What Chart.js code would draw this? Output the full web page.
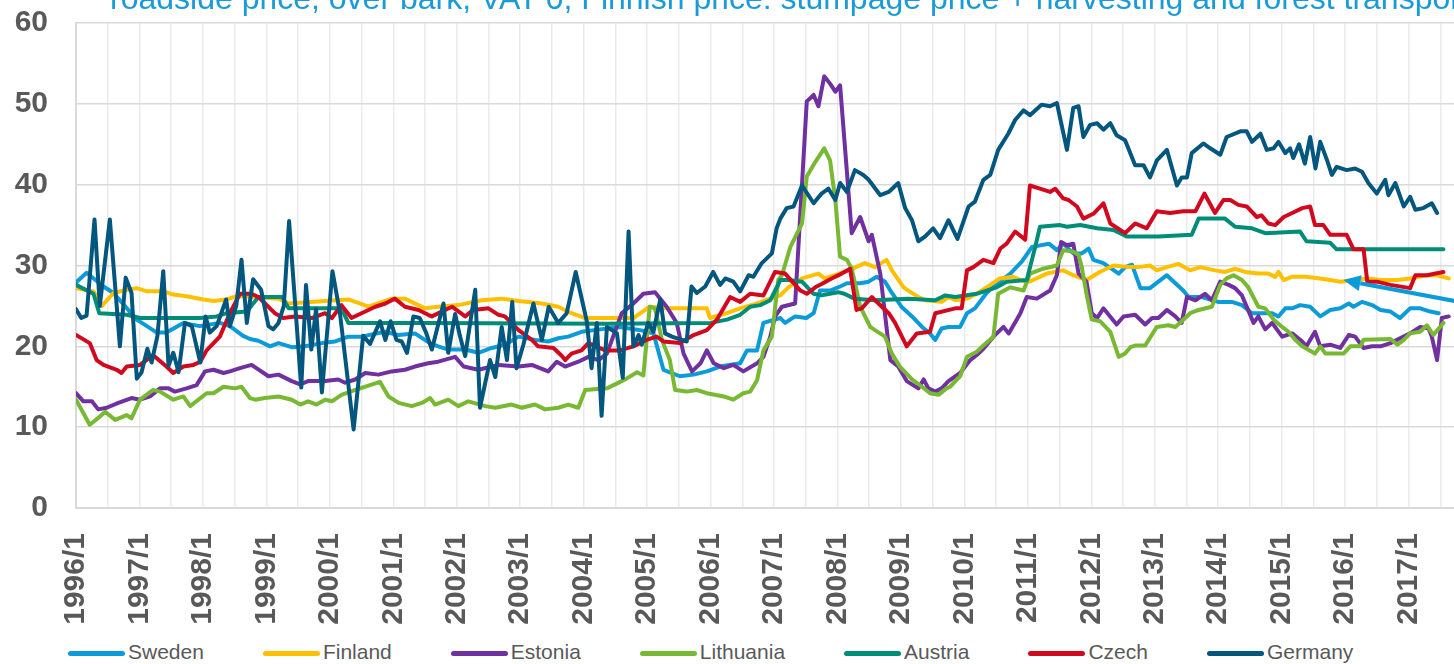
<!DOCTYPE html>
<html>
<head>
<meta charset="utf-8">
<script src="https://cdn.jsdelivr.net/npm/chart.js@4"></script>
<style>
  html, body { margin: 0; padding: 0; background: #fff; overflow: hidden; }
  #wrap { position: relative; width: 1454px; height: 664px; overflow: hidden; }
  #chartPrices { position: absolute; left: 0; top: 0; }
  #note { position: absolute; left: 110px; top: -18px; font: 32px/32px "Liberation Sans", Arial, sans-serif; color: #1a9ad6; white-space: nowrap; }
  #legend { position: absolute; left: 68px; top: 640px; display: flex; gap: 59px; font: 21px/24px "Liberation Sans", Arial, sans-serif; color: #595959; white-space: nowrap; }
  #legend .item { display: flex; align-items: center; }
  #legend .swatch { width: 57px; height: 5px; border-radius: 3px; margin: 2px 3px 0 0; }
</style>
</head>
<body>
<div id="wrap">
  <canvas id="chartPrices" width="1454" height="636"></canvas>
  <div id="note">roadside price, over bark, VAT 0, Finnish price: stumpage price + harvesting and forest transport</div>
  <div id="legend"></div>
</div>
<script>
// months counted from 1996/1 (0 = 1996/1), value in EUR/m3
const yearLabels = ['1996/1', '1997/1', '1998/1', '1999/1', '2000/1', '2001/1', '2002/1', '2003/1', '2004/1', '2005/1', '2006/1',
    '2007/1', '2008/1', '2009/1', '2010/1', '2011/1', '2012/1', '2013/1', '2014/1', '2015/1', '2016/1', '2017/1'];
const names = ['Sweden', 'Finland', 'Estonia', 'Lithuania', 'Austria', 'Czech', 'Germany'];
const colors = ['#0b9bd8', '#ffc000', '#7030a0', '#78b833', '#008d78', '#d2091e', '#03577f'];

const sweden = [[0,27.9],[2,29.1],[5.2,27.4],[7.1,26.6],[11.5,23.3],[15.3,21.7],[17.1,21.7],[20.3,22.9],[23.4,22.5],[27.2,22.9],[29.1,22.5],[31.6,21.3],[32.9,20.9],
    [34.5,20.7],[36.7,20.0],[38.3,20.4],[40.8,19.9],[43.3,20.0],[46.5,20.4],[49,20.6],[51.5,21.2],[54,21.2],[58.4,21.8],[60.9,21.4],[64.1,21.6],[66.9,20.4],
    [68.5,20.0],[70.4,19.6],[73.6,19.6],[76.1,19.2],[78.6,19.8],[81.1,20.2],[83.7,21.2],[86.8,20.8],[89.3,20.6],[91.2,21.0],[93.1,21.2],[95.6,21.8],[99.1,22.1],
    [102.9,22.4],[106.7,22.0],[109.2,21.6],[111.1,17.1],[114.2,16.3],[116.8,16.5],[119.3,16.9],[121.8,17.5],[125.6,17.9],[126.9,19.5],[128.8,19.5],[130,22.9],[133.2,23.5],
    [134.1,22.9],[136,23.7],[138.1,23.5],[139.5,24.1],[140.7,26.9],[142.6,26.9],[144.5,27.4],[145.8,27.8],[148.3,27.8],[149.9,28.0],[151.4,28.6],[153,28.0],[154.3,26.6],
    [156.1,24.9],[158.1,23.7],[160,22.4],[161.5,21.6],[162.5,20.8],[163.7,22.2],[165,22.4],[167.2,22.4],
    [168.5,24.1],[170,24.7],[172.2,26.6],[173.5,27.4],[176.7,29.0],[178.9,30.5],[180.8,32.3],[184,32.7],[185.5,31.9],[186.7,32.7],[188.6,31.5],[190.2,31.5],[191.5,32.1],
    [192.4,30.7],[194.3,30.3],[197.2,29.0],[198.4,29.8],
    [199.7,30.1],[201.3,27.2],[203.1,27.2],[204.7,28.0],[206.3,28.8],[207.9,27.8],[209.4,26.9],[210.4,26.1],[212.9,26.1],[216,25.5],[218.6,25.5],[220.5,25.1],[222.4,24.1],
    [226.2,24.1],[227.4,23.7],[228.7,24.7],[230,24.7],[231.5,25.1],
    [233.4,24.9],[235.3,23.7],[237.2,24.5],[239.1,24.7],[240.7,25.3],[241.6,24.9],[243.2,25.5],[245.1,25.1],[246.7,24.5],[248.6,24.3],[250.4,23.5],[252.3,24.7],[254.2,24.7],
    [256.1,24.3],[257.7,24.1]];

const finland = [[0,27.2],[3.3,26.8],[4.9,25.0],[7.1,26.6],[9.6,27.0],[11.5,27.2],[13.4,26.8],[16.5,26.8],[18.4,26.4],[20.9,26.2],[24.1,25.8],[26,25.6],[28.5,25.8],[30.4,26.2],
    [32,26.2],[38.3,25.9],[40.2,25.3],[47.1,25.6],[51.5,25.8],[55.3,24.9],[59.7,25.9],[62.2,25.9],[66,24.7],
    [68.5,24.9],[72.3,25.1],[76.7,25.7],[80.5,25.9],[83.7,25.6],[88.1,25.3],[91.2,24.9],[93.7,24.1],[96.3,23.5],[100.1,23.5],
    [105.4,23.5],[108.5,24.9],[111.7,24.7],[119.3,24.7],[119.9,23.5],[123.1,24.1],[125.6,24.7],[128.8,25.3],[131.3,25.9],[133.2,26.3],
    [134.7,27.3],[137.3,28.4],[140.4,29.0],[141.6,28.4],[143.5,28.8],[146.1,29.4],[149.2,30.3],[151.1,29.8],[153.3,30.7],[154.3,29.4],[156.5,27.3],[157.4,26.9],
    [159.3,26.1],[160.6,25.7],[163.7,25.5],[165,26.1],[166.3,25.7],
    [168.5,25.9],[170.3,26.5],[172.2,27.3],[174.7,28.4],[177.2,28.6],[179.8,27.9],[181,28.2],[183.6,29.0],[186.7,29.4],[188.6,28.8],[191.1,28.2],[193.6,29.2],[196.2,30.0],[199.4,29.8],
    [200.9,29.8],[203.1,30.0],[204.4,29.4],[206.3,29.8],[208.5,30.2],[210.7,29.4],[212.6,29.8],[215.4,29.4],[217.3,29.2],[219.2,29.6],[221.1,29.2],[223.6,29.0],[225.5,29.0],
    [226.8,28.6],[227.4,29.2],[228.4,28.2],[229.9,28.6],[232.5,28.6],
    [235.3,28.4],[237.2,28.2],[239.1,28.0],[241.6,28.2],[244.2,28.4],[246.7,28.2],[249.9,28.2],[252.3,28.4],[255.5,28.8],[257.4,28.8],[259.6,28.4]];

const estonia = [[0,14.2],[1.4,13.2],[3,13.2],[4.2,12.2],[5.8,12.4],[8,13.0],[10.5,13.6],[12.1,13.4],[14,13.8],[15.9,14.8],[17.5,14.8],[18.7,14.4],[20.9,14.8],[22.8,15.2],
    [24.4,16.9],[26,17.1],[27.9,16.7],[29.1,16.9],[31,17.3],[33.2,17.7],
    [36.4,16.3],[38.3,16.5],[40.8,15.7],[42.4,15.3],[43.9,15.7],[47.1,15.7],[49.6,15.9],[50.9,15.5],[52.8,15.9],[54.7,16.7],[57.2,16.5],[59.7,16.9],[62.2,17.1],[64.1,17.5],[66.6,17.9],
    [68.5,18.1],[71.7,18.7],[73.3,17.5],[76.1,17.1],[79.9,17.7],[83.7,17.5],[86.2,17.7],[89.3,16.9],[90.9,18.1],[92.5,17.5],[95,18.1],[96.9,18.7],[98.8,18.3],
    [100.4,19.1],[103.2,24.1],[105.4,25.3],[107.3,26.5],[109.5,26.7],[111.7,24.9],[113.6,22.9],[114.9,19.1],[116.5,16.9],[118.1,17.9],[119.3,19.5],[120.6,17.9],[122.5,17.3],
    [124.3,17.7],[126.2,16.9],[128.8,17.9],[130,18.7],[131.3,21.2],[132.2,23.7],
    [133.5,24.9],[136,25.3],[138.2,50.3],[139.5,51.1],[140.4,49.7],[141.5,53.4],[142.6,52.5],[143.6,51.5],[144.5,52.3],[146.7,34.0],[148.3,36.0],[149.9,33.0],[150.5,33.8],
    [152.1,29.0],[154,18.3],[155.5,17.5],[157.1,15.7],[159.3,14.8],[160.3,15.9],[161.2,14.8],[162.5,14.4],[163.7,14.8],[165,15.7],
    [167.2,16.7],[169.1,18.3],[170.3,18.9],[171.6,19.7],[173.5,21.2],[175.4,22.4],[176.4,21.6],[178.6,24.1],[179.8,26.1],[181.7,25.9],[184.2,26.9],[185.5,28.8],[186.3,32.9],
    [187.4,32.5],[188.6,32.7],[189.6,29.0],[191.1,28.0],[192.1,24.1],[193.1,23.5],[194.3,24.7],[196.8,22.7],[198.1,23.7],
    [200.3,23.9],[202.2,22.7],[203.5,23.5],[204.7,23.5],[206.3,24.5],[207.9,23.7],[209.1,22.9],[210.1,26.1],[211.7,25.7],[213.5,26.5],[214.8,25.7],[216.4,28.0],[218,27.6],
    [219.2,27.2],[220.5,26.3],[222.7,22.9],[223.6,23.7],[224.9,22.1],[226.2,22.9],[228.1,21.2],[230,21.6],[231.9,20.6],
    [232.7,20.0],[234.3,21.8],[235.3,20.0],[237.2,20.2],[239.1,19.8],[240.7,21.4],[241.9,21.2],[243.5,19.8],[245.1,20.0],[246.7,20.0],[248.6,20.4],[250.4,21.0],[252.3,21.6],
    [254.2,22.4],[255.8,22.2],[256.4,21.2],[257.4,18.3],[258.3,23.5],[259.6,23.7]];

const lithuania = [[0,13.4],[2.6,10.3],[4.5,11.3],[5.5,11.9],[7.4,10.9],[9.6,11.5],[10.5,11.1],[12.1,13.4],[14.6,14.6],[15.9,14.4],[18.4,13.4],[20.3,13.8],[21.6,12.6],
    [24.7,14.2],[26,14.2],[27.9,15.0],[30.1,14.8],[31.3,15.0],[32.9,13.6],
    [33.9,13.4],[35.7,13.6],[38.3,13.8],[40.8,13.4],[42.4,12.8],[43.9,13.2],[45.5,12.8],[47.1,13.4],[48.4,13.2],[50.2,14.0],[52.8,14.6],[55.6,15.2],[57.5,15.6],[59.1,13.8],
    [61,13.0],[63.5,12.6],[65.4,13.0],[67,13.6],
    [67.9,12.8],[70.4,13.4],[72.3,12.6],[74.2,13.2],[77.4,12.6],[79.3,12.4],[82.4,12.8],[84.3,12.4],[86.8,12.8],[88.7,12.2],[91.2,12.4],[93.1,12.8],[95,12.4],[96.3,14.6],[100.4,14.8],
    [102.9,15.6],[104.1,16.0],[106.1,16.8],[107.3,16.4],[108.5,24.9],[109.5,24.7],[110.8,20.8],[112.3,18.3],[113.3,14.6],[115.5,14.4],[117.4,14.6],[119.3,14.2],[122.5,13.8],
    [124.3,13.4],[126.2,14.2],[127.5,14.4],[128.8,15.8],[130,19.5],[131.6,21.2],[132.8,28.2],
    [133.5,28.8],[135.1,32.3],[137.3,35.2],[138.2,41.0],[139.8,42.8],[141.5,44.5],[142.6,43.0],[143.6,38.1],[144.5,31.1],[145.8,30.7],[146.7,29.6],[148.3,24.9],[150.2,22.4],
    [151.1,22.0],[153,21.2],[154.3,19.1],[155.8,17.5],[158.1,15.9],[160,15.0],[161.5,14.2],[163.1,14.0],[164.6,14.8],[165.3,15.0],
    [167.2,16.3],[168.5,18.7],[170.3,19.3],[171.6,20.1],[173.5,21.2],[174.4,26.5],[176.7,27.3],[179.2,26.9],[180.4,29.0],[182.9,29.6],[185.5,30.0],[186.7,31.9],[188.6,31.7],
    [189.6,31.3],[190.2,29.8],[191.1,26.5],[192.1,23.3],[193.7,23.1],[195.6,21.8],[197.2,18.7],[198.4,19.1],[199.4,19.9],
    [200.3,20.1],[202.2,20.1],[204.4,22.4],[206.6,22.6],[207.9,22.4],[209.1,23.1],[210.7,24.1],[212.3,24.5],[214.8,24.9],[216.4,27.6],[217.6,28.4],[218.9,28.8],[220.5,28.2],
    [221.7,27.3],[223.6,24.9],[224.9,24.7],[226.5,23.3],[228.1,22.4],[229.3,21.8],[230.6,20.8],[231.9,20.0],
    [234.3,19.1],[235.3,20.0],[236.3,19.1],[239.7,19.1],[241,20.0],[242.9,20.0],[243.5,20.8],[248.6,20.9],[249.9,20.2],[251.1,20.8],[252.3,21.6],[254.2,21.8],[255.5,22.6],
    [256.7,21.4],[258.6,22.9]];

const austria = [[0,27.6],[3.3,26.5],[4.4,24.1],[9.6,23.9],[12.1,23.5],[23.4,23.5],[26.6,23.7],[28.5,24.1],[32.3,24.3],[34.5,26.1],[39,26.1],[40.2,24.7],[50.2,24.7],[51.5,22.9],
    [66.6,22.9],[100,22.8],[120,22.9],[123.1,23.3],[125.6,23.9],[127.5,24.9],[129.4,25.1],[131.3,25.7],[133.2,28.2],
    [134.7,28.2],[137.3,28.0],[139.5,26.5],[141,26.3],[144.1,26.7],[145.3,26.5],[147.2,25.9],[151.1,25.7],[157.4,25.9],[162.5,25.7],[164.4,26.3],[166.3,26.1],
    [170.3,26.5],[174.1,27.3],[176,28.0],[179.8,28.2],[181.4,32.3],[182.3,34.8],[186.1,35.0],[187.4,34.8],[189.9,35.0],[193.1,34.6],[196.2,34.4],[198.7,33.6],
    [204.7,33.6],[211,33.8],[212.3,35.8],[217.3,35.8],[219.2,34.8],[222.4,34.6],[224.9,34.0],[231.5,34.2],[232.7,33.0],[237.2,32.8],[238.4,32.0],[258.6,32.0]];

const czech = [[0,21.4],[2.6,20.4],[3.9,18.3],[5.2,17.7],[7.7,17.1],[8.6,16.7],[9.6,17.5],[12.1,17.7],[14.6,18.9],[17.1,17.5],[18.4,16.7],[20.3,17.5],[22.2,17.7],[23.5,18.1],
    [24.7,19.5],[27.2,21.2],[29.1,24.1],[31,26.5],
    [33.2,26.5],[34.5,26.1],[37.6,24.1],[39.2,23.5],[41.4,23.7],[44.6,23.5],[47.1,24.1],[48.4,23.5],[50.2,25.1],[52.1,23.5],[54,24.1],[56.6,24.9],[58.5,25.3],[60.3,25.9],
    [62.2,24.9],[64.8,24.5],[66.6,23.9],
    [67.3,23.7],[71.1,24.9],[73.6,23.7],[75.1,24.5],[78,24.7],[79.9,23.9],[81.1,23.7],[83.7,22.0],[86.2,20.8],[87.4,20.0],[90.3,19.8],[91.9,18.8],[92.5,18.3],[93.7,19.1],
    [95.6,19.5],[96.9,20.4],[100.1,19.5],
    [102.9,19.5],[105.4,20.0],[107.9,20.8],[109.8,21.2],[111.1,20.6],[114.2,20.4],[116.8,21.4],[119.3,22.0],[121.2,23.3],[123.7,26.1],[125.6,25.5],[127.5,26.5],[130,26.3],[132.2,29.2],
    [134.1,29.0],[137,26.9],[138.2,26.5],[139.8,27.3],[141,27.7],[142.9,28.4],[144.8,29.0],[146.4,29.6],[147.6,24.5],[148.6,24.7],[150.5,26.1],[152.4,24.9],[153.7,24.1],
    [154.9,22.9],[157.1,20.0],[159,21.6],[161.5,21.8],[162.5,24.1],[166.3,24.7],
    [167.5,24.7],[168.5,29.4],[169.7,29.8],[171.6,30.7],[173.5,30.3],[174.8,32.1],[176,32.7],[177.6,34.2],[179.5,33.2],[180.4,39.9],[182.3,39.5],[184.2,39.1],[185.2,39.5],
    [186.7,38.3],[187.7,38.1],[189.3,37.3],[190.5,35.8],[192.4,36.4],[194.3,37.7],[195.6,35.2],[198.4,34.0],
    [200.3,35.2],[202.5,34.6],[204.4,36.7],[206.9,36.5],[209.4,36.7],[211.7,36.7],[213.4,38.9],[215.4,36.5],[217,38.1],[218.3,38.1],[219.8,37.5],[221.4,37.3],[223.3,36.0],
    [224.2,36.2],[225.5,35.2],[226.8,35.0],[228.4,36.0],[230,36.5],[231.9,37.1],
    [233.4,37.3],[234.3,35.0],[235.9,35.0],[237.2,33.8],[240.3,33.8],[241.6,32.0],[243.5,32.0],[244.2,28.0],[246,28.0],[248.6,27.6],[252.3,27.2],[253.3,28.8],[255.5,28.8],
    [257.1,29.0],[258.6,29.2]];

const germany = [[0,24.6],[1,23.5],[2,23.8],[3.5,35.7],[4.5,25.0],[6.4,35.7],[8.3,20.0],[9.4,28.5],[10.5,26.6],[11.5,16.0],[12.4,16.8],[13.5,19.7],[14.3,18.0],[15.4,21.3],
    [16.5,29.3],[17.5,17.6],[18.4,19.2],[19.4,16.8],[20.6,22.9],[21.9,22.5],[23.5,18.0],[24.5,23.7],[25.3,21.7],[26.6,22.5],[28.4,25.8],[29.1,22.5],[30.3,25.0],[31.3,30.7],[32.3,22.9],
    [33.5,28.3],[35,27.0],[36.4,22.5],[37.3,22.1],[38.3,22.9],[39.3,25.0],[40.3,35.5],[42.6,14.9],[43.5,27.6],[44.5,19.6],[45.4,24.6],[46.5,14.3],[48.5,29.3],[49.9,24.2],
    [52.5,9.7],[54.3,21.3],[55.6,20.3],[57.5,23.1],[58.5,20.8],[59.5,23.1],[60.6,20.8],[61.6,20.6],[62.6,19.2],[63.8,23.7],[65,23.5],[66.2,21.7],
    [67.3,19.6],[69.5,25.3],[70.4,19.2],[71.7,24.0],[72.6,21.3],[73.6,18.8],[75.5,27.0],[76.4,12.4],[78.3,18.3],[79.3,16.2],[80.5,22.4],[81.5,18.3],[82.5,25.5],[83.3,17.3],
    [84.6,20.2],[86.5,25.3],[88.1,20.8],[89.4,24.9],[91.2,22.9],[92.8,24.1],[94.5,29.2],[96.6,23.1],[97.5,17.3],[98.5,22.9],[99.4,11.4],
    [100.4,22.4],[102.3,21.6],[103.4,16.1],[104.5,34.2],[105.4,20.0],[106.4,21.4],[107,20.2],[108.2,22.9],[109.2,21.8],[110.5,25.8],[111.4,21.6],[112.7,21.2],[115.5,20.6],
    [116.4,27.4],[117.4,26.6],[119,27.4],[120.5,29.2],[121.8,27.6],[122.8,28.4],[124.3,28.0],[125.6,26.8],[127.2,28.8],[128.1,28.6],[129.7,30.3],[131.6,31.5],[132.5,34.6],[133.2,35.8],
    [134.4,37.1],[135.7,37.3],[137.3,39.9],[139.5,37.7],[141,38.9],[142.3,39.5],[143.6,38.1],[144.5,40.2],[145.8,39.1],[147.3,41.8],[148.9,41.2],[149.9,40.6],[152.1,38.7],
    [153.7,39.1],[155.5,40.2],[156.8,37.1],[158.1,35.6],[159.3,33.0],[160.6,33.6],[162.1,34.6],[163.4,33.4],[165,35.6],[166.7,33.3],
    [168.8,37.3],[170,37.9],[171.6,40.6],[172.9,41.2],[174.4,44.3],[176.3,46.3],[177.6,48.0],[179.2,49.2],[180.4,48.6],[182.6,49.9],[184.2,49.7],[185.5,50.1],[187.4,44.3],
    [188.6,49.5],[189.6,49.7],[190.5,45.9],[191.8,47.4],[193.1,47.6],[194.3,46.8],[195.6,47.6],[196.8,46.1],[198.4,45.5],
    [200.3,42.4],[201.9,42.4],[203.1,40.9],[204.4,43.0],[206.3,44.3],[208.2,39.9],[209.1,40.9],[210.1,40.9],[211,43.9],[213.2,45.1],[214.5,44.5],[216.4,43.7],[217.6,45.9],
    [220.2,46.6],[221.4,46.6],[222.4,45.3],[224,46.3],[225.2,44.3],[226.5,44.5],[227.4,45.3],[228.7,43.9],[229.6,44.5],[230.2,43.3],[231.3,45.0],[232.4,42.6],[233.4,45.9],
    [234.4,42.0],[235.3,45.3],[236.6,43.0],[237.5,41.2],[238.4,42.2],[240.3,41.8],[241.9,42.0],[243.2,41.6],[244.4,40.2],[246,38.9],[247.6,40.6],[248.2,38.7],[249.5,40.2],
    [251.1,37.3],[252.3,38.5],[253.3,36.9],[254.8,37.1],[256.4,37.7],[257.4,36.5]];

const seriesData = [sweden, finland, estonia, lithuania, austria, czech, germany];

// arrow note pointing at the Swedish line (month, value)
const arrowStart = [262, 25.45];
const arrowEnd = [239.7, 28.2];

const fontFamily = '"Liberation Sans", Arial, sans-serif';
const gridMonths = [];
for (let m = 0; m <= 258; m += 6) gridMonths.push(m);

const arrowPlugin = {
    id: 'arrowNote',
    afterDatasetsDraw(chart) {
        const { ctx, scales } = chart;
        const x0 = scales.x.getPixelForValue(arrowStart[0]);
        const y0 = scales.y.getPixelForValue(arrowStart[1]);
        const x1 = scales.x.getPixelForValue(arrowEnd[0]);
        const y1 = scales.y.getPixelForValue(arrowEnd[1]);
        const ang = Math.atan2(y1 - y0, x1 - x0);
        const head = 17, half = 8;
        const bx = x1 - head * Math.cos(ang), by = y1 - head * Math.sin(ang);
        ctx.save();
        ctx.strokeStyle = colors[0];
        ctx.fillStyle = colors[0];
        ctx.lineWidth = 4;
        ctx.beginPath();
        ctx.moveTo(x0, y0);
        ctx.lineTo(bx, by);
        ctx.stroke();
        ctx.beginPath();
        ctx.moveTo(x1, y1);
        ctx.lineTo(bx + half * Math.sin(ang), by - half * Math.cos(ang));
        ctx.lineTo(bx - half * Math.sin(ang), by + half * Math.cos(ang));
        ctx.closePath();
        ctx.fill();
        ctx.restore();
    }
};

const ctx = document.getElementById('chartPrices').getContext('2d');

new Chart(ctx, {
    type: 'line',
    data: {
        datasets: names.map((name, i) => ({
            label: name,
            data: seriesData[i].map(p => ({ x: p[0], y: p[1] })),
            borderColor: colors[i],
            backgroundColor: colors[i],
            borderWidth: 4,
            pointRadius: 0,
            tension: 0,
            fill: false,
            borderJoinStyle: 'round',
            borderCapStyle: 'round',
            order: names.length - 1 - i
        }))
    },
    options: {
        responsive: false,
        animation: false,
        devicePixelRatio: 1,
        layout: { padding: { top: 23, right: 0, bottom: 0, left: 0 } },
        plugins: {
            legend: { display: false },
            tooltip: { enabled: false }
        },
        scales: {
            x: {
                type: 'linear',
                min: 0,
                max: 260.6,
                afterBuildTicks: s => { s.ticks = gridMonths.map(v => ({ value: v })); },
                afterFit: s => { s.height = 128; s.paddingLeft = 0; s.paddingRight = 0; s.paddingTop = 0; s.paddingBottom = 0; },
                grid: { color: '#ebebeb', lineWidth: 1.5, drawTicks: false },
                border: { color: '#d9d9d9', width: 2 },
                ticks: {
                    autoSkip: false,
                    minRotation: 90,
                    maxRotation: 90,
                    padding: 25,
                    color: '#595959',
                    font: { family: fontFamily, size: 30, weight: 'bold' },
                    callback: v => (v % 12 === 0 ? yearLabels[v / 12] : '')
                }
            },
            y: {
                min: 0,
                max: 60,
                afterFit: s => { s.width = 76; s.paddingTop = 0; s.paddingBottom = 0; s.paddingLeft = 0; s.paddingRight = 0; },
                grid: { color: '#d9d9d9', lineWidth: 1.5, drawTicks: false },
                border: { color: '#d9d9d9', width: 2 },
                ticks: {
                    stepSize: 10,
                    padding: 28,
                    color: '#595959',
                    font: { family: fontFamily, size: 30, weight: 'bold' }
                }
            }
        }
    },
    plugins: [arrowPlugin]
});

// legend under the chart
const legendBox = document.getElementById('legend');
names.forEach((name, i) => {
    const item = document.createElement('div');
    item.className = 'item';
    const sw = document.createElement('span');
    sw.className = 'swatch';
    sw.style.background = colors[i];
    const label = document.createElement('span');
    label.textContent = name;
    item.appendChild(sw);
    item.appendChild(label);
    legendBox.appendChild(item);
});
</script>
</body>
</html>
